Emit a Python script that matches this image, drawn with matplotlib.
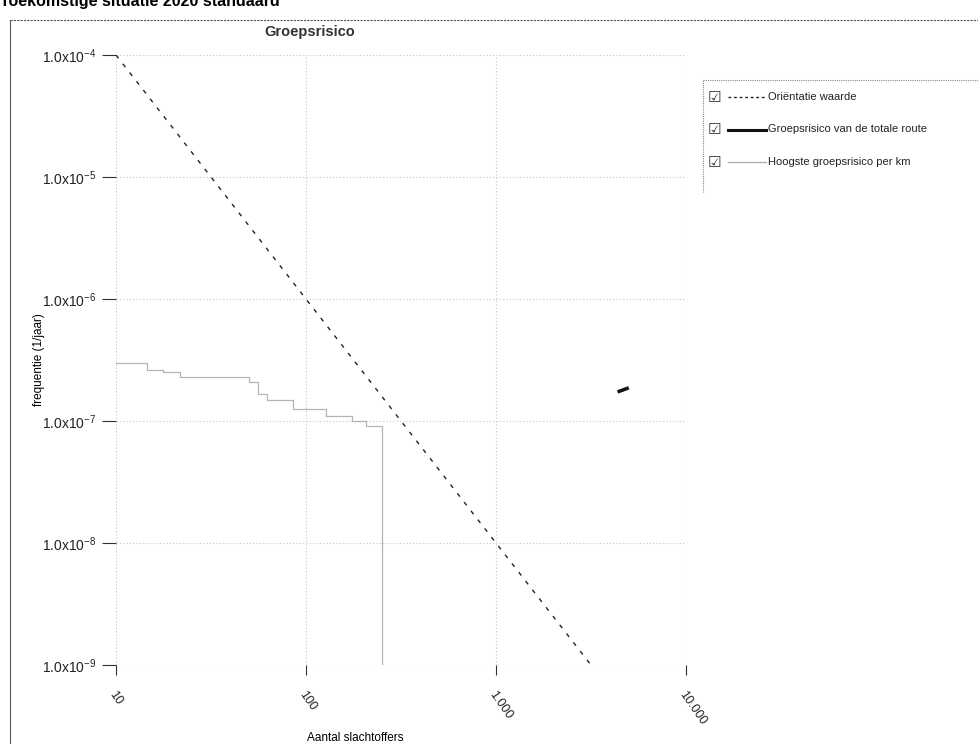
import matplotlib
matplotlib.use("Agg")
import matplotlib.pyplot as plt
from matplotlib.lines import Line2D
from matplotlib.ticker import FixedLocator, FixedFormatter, NullLocator

plt.rcParams["font.family"] = ["Liberation Sans", "DejaVu Sans"]

# Orientatiewaarde: F = 1e-2 / N^2
orient_n = [10, 3162]
orient_f = [1e-4, 1e-9]

# Hoogste groepsrisico per km (step curve)
km_n = [10, 14.6, 17.6, 21.7, 50, 56, 62, 85, 128, 174, 208, 250, 250]
km_f = [3.0e-7, 2.6e-7, 2.5e-7, 2.3e-7, 2.1e-7, 1.66e-7, 1.5e-7, 1.26e-7,
        1.1e-7, 1.0e-7, 9.1e-8, 9.1e-8, 1e-9]

# Groepsrisico van de totale route (only a tiny fragment is visible)
route_n = [4450, 4900]
route_f = [1.75e-7, 1.85e-7]

x_ticks = [10, 100, 1000, 10000]
x_labels = ["10", "100", "1.000", "10.000"]
y_ticks = [1e-9, 1e-8, 1e-7, 1e-6, 1e-5, 1e-4]
y_labels = [r"$\mathregular{1.0x10^{-%d}}$" % e for e in [9, 8, 7, 6, 5, 4]]

legend_labels = ["Oriëntatie waarde", "Groepsrisico van de totale route",
                 "Hoogste groepsrisico per km"]

W, H = 979, 744
fig = plt.figure(figsize=(W / 100, H / 100), dpi=100)
ax = fig.add_axes([116 / W, 1 - 665 / H, (686 - 116) / W, (665 - 55) / H])
ax.set_xscale("log")
ax.set_yscale("log")
ax.set_xlim(10, 10000)
ax.set_ylim(1e-9, 1e-4)

ax.plot(km_n, km_f, color="#b4b4b4", lw=0.9, drawstyle="steps-post")
ax.plot(orient_n, orient_f, color="#222222", lw=1.0, ls=(0, (3, 5)))
ax.plot(route_n, route_f, color="#111111", lw=2.5)

ax.xaxis.set_major_locator(FixedLocator(x_ticks))
ax.xaxis.set_major_formatter(FixedFormatter(x_labels))
ax.xaxis.set_minor_locator(NullLocator())
ax.yaxis.set_major_locator(FixedLocator(y_ticks))
ax.yaxis.set_major_formatter(FixedFormatter(y_labels))
ax.yaxis.set_minor_locator(NullLocator())

ax.grid(True, color="#c4c4c4", ls=(0, (1, 2)), lw=0.8)
for s in ax.spines.values():
    s.set_visible(False)
ax.tick_params(axis="x", length=7, width=0.8, color="#333333", pad=10,
               labelsize=9, labelrotation=-55, labelcolor="#222222")
ax.tick_params(axis="y", length=10, width=0.8, color="#333333", pad=4,
               labelsize=10, labelcolor="#222222")
for lab in ax.get_xticklabels():
    lab.set_ha("left")
    lab.set_va("top")
    lab.set_rotation_mode("anchor")

ax.set_xlabel("Aantal slachtoffers", fontsize=8.5)
ax.set_ylabel("frequentie (1/jaar)", fontsize=8.5)
ax.xaxis.set_label_coords(0.42, -0.11)
ax.yaxis.set_label_coords(-0.125, 0.5)

ax.set_title("Groepsrisico", fontsize=10.5, fontweight="bold", color="#333333",
             x=0.34, pad=14)

fig.text(0.0, 1 - 6 / H, "Toekomstige situatie 2020 standaard", fontsize=11.5,
         fontweight="bold", va="baseline", ha="left")

# outer frame of the scanned chart
fig.add_artist(Line2D([10 / W, 10 / W], [0, 1 - 20 / H], color="#555555", lw=0.8))
fig.add_artist(Line2D([10 / W, 1], [1 - 20 / H, 1 - 20 / H], color="#555555",
                      lw=0.8, ls=(0, (2, 1))))

# legend box
lx0, ly0, ly1 = 703, 80, 192
fig.add_artist(Line2D([lx0 / W, 1], [1 - ly0 / H, 1 - ly0 / H], color="#888888",
                      lw=0.8, ls=(0, (1, 1))))
fig.add_artist(Line2D([lx0 / W, lx0 / W], [1 - ly0 / H, 1 - ly1 / H],
                      color="#888888", lw=0.8, ls=(0, (1, 1))))
styles = [dict(color="#222222", lw=1.0, ls=(0, (2, 2))),
          dict(color="#111111", lw=2.2, ls="-"),
          dict(color="#b0b0b0", lw=1.0, ls="-")]
for i, (lab, st) in enumerate(zip(legend_labels, styles)):
    yy = 1 - (97 + 32.5 * i) / H
    fig.text(708 / W, yy, "\u2611", fontsize=11, va="center", ha="left",
             family=["DejaVu Sans"], color="#333333")
    fig.add_artist(Line2D([728 / W, 766 / W], [yy, yy], **st))
    fig.text(768 / W, yy, lab, fontsize=8, va="center", ha="left",
             color="#222222")

fig.savefig("out.png", dpi=100)
